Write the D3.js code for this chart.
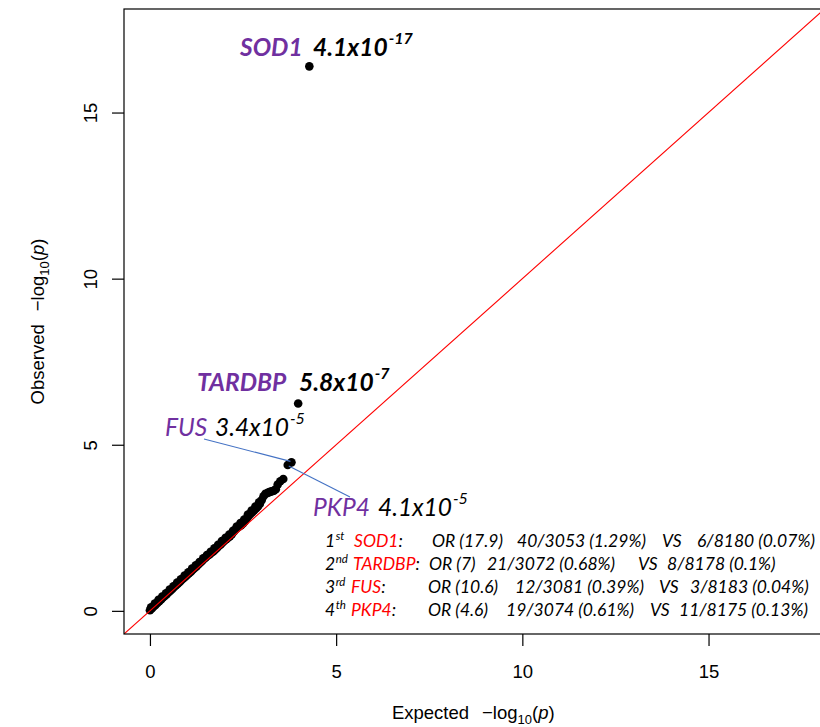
<!DOCTYPE html>
<html><head><meta charset="utf-8">
<script src="https://cdn.jsdelivr.net/npm/d3@7"></script>
<style>body{margin:0;background:#fff} svg{display:block}</style>
</head><body><svg id="c" width="820" height="727"></svg>
<script>
// ---- data ----
const expected = [0.00,0.05,0.10,0.15,0.20,0.25,0.30,0.35,0.40,0.45,0.50,0.55,0.60,0.65,0.70,0.75,0.80,0.85,0.90,0.95,
  1.00,1.05,1.10,1.15,1.20,1.25,1.30,1.35,1.40,1.45,1.50,1.55,1.60,1.65,1.70,1.75,1.80,1.85,1.90,1.95,
  2.00,2.05,2.10,2.15,2.20,2.25,2.30,2.35,2.40,2.45,2.50,2.55,2.60,2.65,2.70,2.75,2.80,2.85,2.90,2.95,
  3.00,3.05,3.10,3.16,3.20,3.24,3.28,3.33,3.38,3.43,3.50,3.58];
const observed = [0.02,0.07,0.13,0.18,0.24,0.29,0.34,0.40,0.45,0.50,0.56,0.61,0.66,0.72,0.77,0.82,0.87,0.93,0.98,1.03,
  1.08,1.13,1.18,1.24,1.29,1.34,1.40,1.45,1.50,1.56,1.61,1.66,1.70,1.75,1.79,1.84,1.89,1.95,2.00,2.06,
  2.11,2.16,2.20,2.25,2.31,2.38,2.45,2.50,2.54,2.58,2.63,2.70,2.78,2.86,2.92,2.97,3.03,3.08,3.14,3.22,
  3.33,3.45,3.52,3.55,3.57,3.59,3.60,3.62,3.66,3.80,3.90,3.97];
// points forming the upper edge of the dense band
const expectedUpper = [0.03,0.13,0.23,0.33,0.43,0.53,0.63,0.73,0.83,0.93,1.03,1.13,1.23,1.33,1.43,
  1.53,1.63,1.73,1.83,1.93,2.03,2.13,2.23,2.33,2.43,2.53,2.63,2.73,2.83,2.93];
const observedUpper = [0.11,0.22,0.33,0.43,0.53,0.64,0.74,0.85,0.95,1.06,1.16,1.27,1.37,1.47,1.58,
  1.68,1.78,1.88,1.99,2.10,2.20,2.30,2.41,2.54,2.64,2.75,2.90,3.02,3.14,3.27];
const hitGenes = ["SOD1","TARDBP","FUS","PKP4"];
const hitExpected = [4.28,3.98,3.80,3.70];
const hitObserved = [16.39,6.24,4.47,4.39];
const hitMantissa = ["4.1","5.8","3.4","4.1"];
const hitExponent = ["-17","-7","-5","-5"];
const xTicks = [0,5,10,15];
const yTicks = [0,5,10,15];
const axisMax = 17.42;
const ranks = ["1","2","3","4"];
const rankSuffix = ["st","nd","rd","th"];
const tableGenes = ["SOD1","TARDBP","FUS","PKP4"];
const oddsRatios = ["17.9","7","10.6","4.6"];
const caseCounts = ["40/3053","21/3072","12/3081","19/3074"];
const casePct = ["1.29%","0.68%","0.39%","0.61%"];
const ctrlCounts = ["6/8180","8/8178","3/8183","11/8175"];
const ctrlPct = ["0.07%","0.1%","0.04%","0.13%"];

// ---- layout ----
const plot = {left:124, top:9, right:824.6, bottom:634};
const pad = axisMax*0.04;
const svg = d3.select("#c");
const x = d3.scaleLinear().domain([-pad, axisMax+pad]).range([plot.left, plot.right]);
const y = d3.scaleLinear().domain([-pad, axisMax+pad]).range([plot.bottom, plot.top]);
const AX = "'Liberation Sans', Arial, Helvetica, sans-serif";
const AN = "Lato, 'Open Sans', sans-serif";
const PURPLE = "#7030A0", RED = "#FF0000", BLUE = "#4472C4";

svg.append("defs").append("clipPath").attr("id","pc").append("rect")
  .attr("x",plot.left).attr("y",plot.top).attr("width",plot.right-plot.left).attr("height",plot.bottom-plot.top);

// points
const pts = expected.map((e,i)=>({e, o:observed[i]}))
  .concat(expectedUpper.map((e,i)=>({e, o:observedUpper[i]})))
  .concat(hitExpected.map((e,i)=>({e, o:hitObserved[i]})));
svg.append("g").selectAll("circle").data(pts).join("circle")
  .attr("cx",d=>x(d.e)).attr("cy",d=>y(d.o)).attr("r",4.3).attr("fill","#000");

// y = x reference line
svg.append("path").attr("clip-path","url(#pc)")
  .datum([-pad, axisMax+pad])
  .attr("d", d3.line().x(d=>x(d)).y(d=>y(d)))
  .attr("stroke",RED).attr("stroke-width",1.1).attr("fill","none");

// box
svg.append("rect").attr("x",plot.left).attr("y",plot.top)
  .attr("width",plot.right-plot.left).attr("height",plot.bottom-plot.top)
  .attr("fill","none").attr("stroke","#000").attr("stroke-width",1.2);

// axes
const gx = svg.append("g").attr("transform",`translate(0,${plot.bottom})`)
  .call(d3.axisBottom(x).tickValues(xTicks).tickSize(12).tickSizeOuter(0).tickFormat(d3.format("d")));
gx.select(".domain").remove();
gx.selectAll("line").attr("stroke","#000").attr("stroke-width",1.2);
gx.selectAll("text").attr("y",44).attr("dy",0).attr("font-family",AX).attr("font-size",18.5).attr("fill","#000");

const gy = svg.append("g").attr("transform",`translate(${plot.left},0)`)
  .call(d3.axisLeft(y).tickValues(yTicks).tickSize(12).tickSizeOuter(0).tickFormat(d3.format("d")));
gy.select(".domain").remove();
gy.selectAll("line").attr("stroke","#000").attr("stroke-width",1.2);
gy.selectAll("text").attr("x",0).attr("y",-27).attr("dy",0).attr("text-anchor","middle")
  .attr("transform","rotate(-90)").attr("font-family",AX).attr("font-size",18.5).attr("fill","#000");

// axis titles
function axisTitle(g, word){
  const t = g.append("text").attr("text-anchor","middle").attr("font-family",AX).attr("font-size",18.5).attr("fill","#000");
  t.append("tspan").text(word);
  t.append("tspan").attr("dx",13).text("\u2212log");
  t.append("tspan").attr("font-size",13).attr("dy",5).text("10");
  t.append("tspan").attr("dy",-5).text("(");
  t.append("tspan").attr("font-style","italic").text("p");
  t.append("tspan").text(")");
  return t;
}
axisTitle(svg.append("g").attr("transform",`translate(${(plot.left+plot.right)/2-1},719)`), "Expected");
axisTitle(svg.append("g").attr("transform",`translate(44,${(plot.top+plot.bottom)/2})rotate(-90)`), "Observed");

// hit annotations
const hitLayout = [
  {gx:240, nx:313, base:56, bold:true},
  {gx:197, nx:299, base:391, bold:true},
  {gx:165, nx:215, base:436, bold:false},
  {gx:313, nx:378, base:516, bold:false}
];
hitGenes.forEach((g,i)=>{
  const L = hitLayout[i];
  const w = L.bold ? "bold" : "normal";
  svg.append("text").attr("x",L.gx).attr("y",L.base).attr("font-family",AN).attr("font-size",24.5)
    .attr("font-style","italic").attr("font-weight",w).attr("fill",PURPLE).text(g);
  const num = svg.append("text").attr("x",L.nx).attr("y",L.base).attr("font-family",AN).attr("font-size",24.5)
    .attr("font-style","italic").attr("font-weight",w).attr("fill","#000").text(hitMantissa[i]+"x10");
  const nw = num.node().getComputedTextLength();
  svg.append("text").attr("x",L.nx+nw+1).attr("y",L.base-12).attr("font-family",AN).attr("font-size",16)
    .attr("font-style","italic").attr("font-weight",w).attr("fill","#000").text(hitExponent[i]);
});

// leader lines
svg.append("line").attr("x1",204).attr("y1",439).attr("x2",x(hitExpected[2])-1).attr("y2",y(hitObserved[2])-1)
  .attr("stroke",BLUE).attr("stroke-width",1.1);
svg.append("line").attr("x1",x(hitExpected[3])+1).attr("y1",y(hitObserved[3])+1).attr("x2",350).attr("y2",497)
  .attr("stroke",BLUE).attr("stroke-width",1.1);

// table
const rowBase = [547,570,593,616];
const colGene = [354,353,351,351];
const colOR = [432,429,428,428];
const colCase = [517,487,515,506];
const colVS = [662,638,659,650];
const colCtrl = [697,667,690,679];
function tt(xp, yp, s, fill, size){
  return svg.append("text").attr("x",xp).attr("y",yp).attr("font-family",AN).attr("font-size",size||17.5)
    .attr("font-style","italic").attr("fill",fill||"#000").text(s);
}
ranks.forEach((r,i)=>{
  const b = rowBase[i];
  const rk = tt(325,b,r);
  const rw = rk.node().getComputedTextLength();
  tt(325+rw+0.5, b-7, rankSuffix[i], "#000", 11.5);
  const gn = tt(colGene[i], b, tableGenes[i], RED);
  tt(colGene[i]+gn.node().getComputedTextLength(), b, ":");
  tt(colOR[i], b, "OR ("+oddsRatios[i]+")");
  tt(colCase[i], b, caseCounts[i]+" ("+casePct[i]+")");
  tt(colVS[i], b, "VS");
  tt(colCtrl[i], b, ctrlCounts[i]+" ("+ctrlPct[i]+")");
});
</script></body></html>
